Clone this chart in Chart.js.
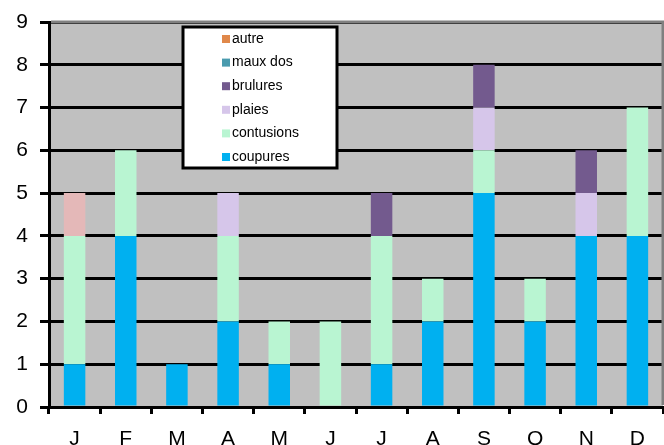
<!DOCTYPE html>
<html>
<head>
<meta charset="utf-8">
<script src="https://cdn.jsdelivr.net/npm/chart.js@4"></script>
<style>
  html, body { margin: 0; padding: 0; background: #fff; }
  #wrap { width: 664px; height: 445px; }
</style>
</head>
<body>
<div id="wrap"><canvas id="chart" width="664" height="445"></canvas></div>
<script>
const mois = ["J", "F", "M", "A", "M", "J", "J", "A", "S", "O", "N", "D"];
const coupures   = [1, 4, 1, 2, 1, 0, 1, 2, 5, 2, 4, 4];
const contusions = [3, 2, 0, 2, 1, 2, 3, 1, 1, 1, 0, 3];
const plaies     = [0, 0, 0, 1, 0, 0, 0, 0, 1, 0, 1, 0];
const brulures   = [0, 0, 0, 0, 0, 0, 1, 0, 1, 0, 1, 0];
const mauxDos    = [0, 0, 0, 0, 0, 0, 0, 0, 0, 0, 0, 0];
const autre      = [1, 0, 0, 0, 0, 0, 0, 0, 0, 0, 0, 0];
const yTicks     = [0, 1, 2, 3, 4, 5, 6, 7, 8, 9];

const FONT = "'Liberation Sans', Arial, sans-serif";

// couleur de légende (le segment "autre" de janvier est rosé sur le graphique)
const legendColors = {
  "coupures": "#00B0F0", "contusions": "#B9F5D2", "plaies": "#D6C6EA",
  "brulures": "#735A8E", "maux dos": "#4A9BAE", "autre": "#E0884A"
};

function ds(label, data, color){
  return { label, data, backgroundColor: color, borderWidth: 0,
           barPercentage: 0.42, categoryPercentage: 1.0 };
}

// fond gris + bordure haut/droite
const plotArea = {
  id: "plotArea",
  beforeDraw(chart){
    const { ctx, chartArea: a } = chart;
    ctx.save();
    ctx.fillStyle = "#C0C0C0";
    ctx.fillRect(a.left, a.top, a.right - a.left, a.bottom - a.top);
    ctx.restore();
  },
  afterDatasetsDraw(chart){
    const { ctx, chartArea: a } = chart;
    ctx.save();
    ctx.strokeStyle = "#808080";
    ctx.lineWidth = 3;
    ctx.beginPath();
    ctx.moveTo(a.left + 2, a.top);
    ctx.lineTo(a.right, a.top);
    ctx.lineTo(a.right, a.bottom - 2);
    ctx.stroke();
    ctx.restore();
  }
};

// légende encadrée dans la zone du graphique
const boxLegend = {
  id: "boxLegend",
  afterDraw(chart){
    const { ctx } = chart;
    const x = 183, y = 27, w = 154, h = 141;
    ctx.save();
    ctx.fillStyle = "#fff";
    ctx.fillRect(x, y, w, h);
    ctx.strokeStyle = "#000";
    ctx.lineWidth = 3;
    ctx.strokeRect(x, y, w, h);
    ctx.font = "14px " + FONT;
    ctx.textBaseline = "middle";
    const items = chart.data.datasets.slice().reverse();
    items.forEach((d, i) => {
      const cy = 39 + i * 23.6;
      ctx.fillStyle = legendColors[d.label];
      ctx.fillRect(222, cy - 4, 8, 8);
      ctx.fillStyle = "#000";
      ctx.fillText(d.label, 232, cy);
    });
    ctx.restore();
  }
};

new Chart(document.getElementById("chart"), {
  type: "bar",
  data: {
    labels: mois,
    datasets: [
      ds("coupures", coupures, "#00B0F0"),
      ds("contusions", contusions, "#B9F5D2"),
      ds("plaies", plaies, "#D6C6EA"),
      ds("brulures", brulures, "#735A8E"),
      ds("maux dos", mauxDos, "#4A9BAE"),
      ds("autre", autre, "#E4B8B8")
    ]
  },
  options: {
    responsive: false,
    animation: false,
    layout: { padding: { top: 22, right: 1, left: 0, bottom: 0 } },
    plugins: { legend: { display: false }, tooltip: { enabled: false } },
    scales: {
      x: {
        stacked: true,
        afterFit(s){ s.height = 38; },
        grid: { offset: true, drawOnChartArea: false, drawTicks: true, tickLength: 7,
                color: "#000", lineWidth: 3 },
        border: { display: true, color: "#000", width: 3 },
        ticks: { color: "#000", font: { family: FONT, size: 21 }, padding: 13 }
      },
      y: {
        stacked: true,
        min: 0, max: 9,
        afterFit(s){ s.width = 49; s.paddingTop = 0; },
        afterBuildTicks(s){ s.ticks = yTicks.map(v => ({ value: v })); },
        grid: { color: "#000", lineWidth: 3, drawTicks: true, tickLength: 9 },
        border: { display: true, color: "#000", width: 3 },
        ticks: { color: "#000", font: { family: FONT, size: 21 }, padding: 12 }
      }
    }
  },
  plugins: [plotArea, boxLegend]
});
</script>
</body>
</html>
